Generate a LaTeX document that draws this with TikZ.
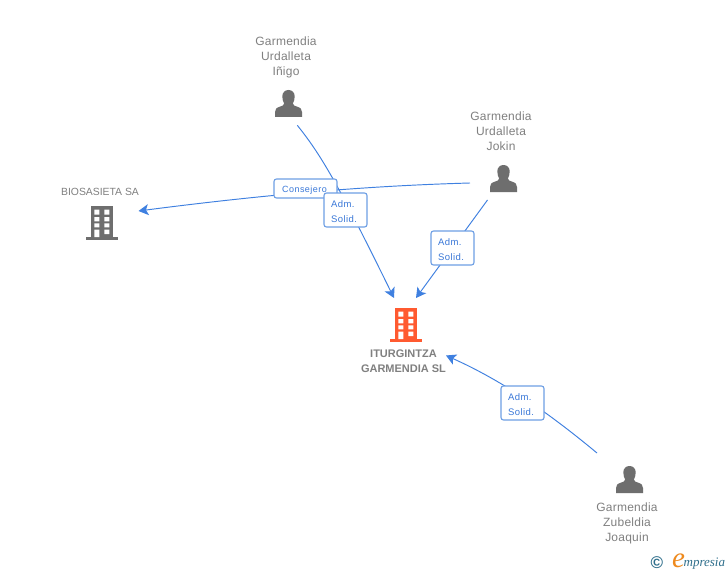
\documentclass[tikz,border=0pt]{standalone}
\usepackage{fontspec}
\setmainfont{Liberation Sans}
\newfontfamily\lblfont[LetterSpace=5]{Liberation Sans}
\newfontfamily\namefont[LetterSpace=2]{Liberation Sans}
\newfontfamily\logofont{Liberation Serif}
\usetikzlibrary{arrows.meta}
\definecolor{linkblue}{HTML}{3F80E0}
\definecolor{boxblue}{HTML}{6E9FE4}
\definecolor{labelblue}{HTML}{3A78D8}
\definecolor{iconGrey}{HTML}{6E6E6E}
\definecolor{nameGrey}{HTML}{808080}
\definecolor{mainOrange}{HTML}{FF5A30}
\definecolor{logoTeal}{HTML}{2F6F8C}
\definecolor{logoOrange}{HTML}{EE8A1E}
\tikzset{
  x=1pt,y=-1pt,
  link/.style={linkblue,line width=0.95pt},
  linkarrow/.style={link,-{Stealth[length=10pt,width=11pt,inset=2.5pt]}},
  rolebox/.style={draw=boxblue,line width=1.1pt,rounded corners=2.5pt,fill=white,text=labelblue,inner sep=0pt},
  admbox/.style={rolebox,minimum width=43pt,minimum height=34pt,text width=29pt,align=left,font=\lblfont\fontsize{9.5}{15}\selectfont},
  consbox/.style={rolebox,minimum width=63pt,minimum height=19pt,align=center,font=\lblfont\fontsize{9}{11}\selectfont},
  person/.style={align=center,text=nameGrey,font=\namefont\fontsize{12}{15}\selectfont,inner sep=0pt},
}
\newcommand{\topstrut}[1]{\rule{0pt}{#1}}
% person icon: origin at top-centre of the head, 27 wide, 27 high
\newcommand{\personicon}[2]{%
  \begin{scope}[shift={(#1,#2)}]
    \fill[iconGrey] (0,0) .. controls (3.6,0) and (6.2,2.6) .. (6.2,6.4)
      .. controls (6.2,9.6) and (5.2,12) .. (4.4,13.4)
      .. controls (4.4,15.4) and (6,15.8) .. (8.5,16.6)
      .. controls (12,17.8) and (13.5,19) .. (13.5,22) -- (13.5,27) -- (-13.5,27) -- (-13.5,22)
      .. controls (-13.5,19) and (-12,17.8) .. (-8.5,16.6)
      .. controls (-6,15.8) and (-4.4,15.4) .. (-4.4,13.4)
      .. controls (-5.2,12) and (-6.2,9.6) .. (-6.2,6.4)
      .. controls (-6.2,2.6) and (-3.6,0) .. (0,0) -- cycle;
  \end{scope}}
% building icon: origin at top-left of the body
\newcommand{\buildingicon}[3]{%
  \begin{scope}[shift={(#1,#2)}]
    \fill[#3] (0,0) rectangle (22.3,31);
    \fill[#3] (-5,31) rectangle (27,33.5);
    \fill[white]
      (3.3,3.7) rectangle (8.3,8.7) (13.3,3.7) rectangle (18.3,8.7)
      (3.3,11) rectangle (8.3,15.3) (13.3,11) rectangle (18.3,15.3)
      (3.3,17.3) rectangle (8.3,21.3) (13.3,17.3) rectangle (18.3,21.3)
      (3.3,23.7) rectangle (8.3,31) (13.3,23.7) rectangle (18.3,28);
  \end{scope}}
\begin{document}
\begin{tikzpicture}
\useasboundingbox (0,0) rectangle (728,575);
\fill[white] (0,0) rectangle (728,575);
% free ends
\coordinate (inigoOut) at (297.3,125.3);
\coordinate (jokinOutA) at (470,183);
\coordinate (jokinOutB) at (487.5,200);
\coordinate (joaquinOut) at (597,453);
\coordinate (mainTipA) at (394,298);
\coordinate (mainTipB) at (416,298);
\coordinate (mainTipC) at (446,355.5);
\coordinate (biosTip) at (138.5,211);
% connectors
\draw[linkarrow] (inigoOut) .. controls (321,155) and (337,182) .. (mainTipA);
\draw[linkarrow] (jokinOutA) .. controls (400,185) and (300,190) .. (biosTip);
\draw[linkarrow] (jokinOutB) -- (mainTipB);
\draw[linkarrow] (joaquinOut) .. controls (562,424) and (512,385) .. (mainTipC);
% icons
\personicon{288.5}{90}
\personicon{503.5}{165}
\personicon{629.5}{466}
\buildingicon{91}{206}{iconGrey}
\buildingicon{395}{308}{mainOrange}
% names
\node[person] (inigo) at (286,57.2) {Garmendia\\Urdalleta\\Iñigo};
\node[person] (jokin) at (501,131.7) {Garmendia\\Urdalleta\\Jokin};
\node[person] (joaquin) at (627,523.2) {Garmendia\\Zubeldia\\Joaquin};
\node[text=nameGrey,font=\fontsize{10.4}{12}\selectfont,inner sep=0pt] (bios) at (100,192) {BIOSASIETA SA};
\node[text=nameGrey,font=\bfseries\fontsize{11}{15}\selectfont,align=center,inner sep=0pt] (main) at (403.5,361) {ITURGINTZA\\GARMENDIA SL};
% role labels
\node[consbox] (cons) at (305.5,188.5) {\topstrut{9.5pt}Consejero\hspace*{2pt}};
\node[admbox] (admA) at (345.5,210) {\topstrut{10.5pt}Adm.\\Solid.};
\node[admbox] (admB) at (452.5,248) {\topstrut{10.5pt}Adm.\\Solid.};
\node[admbox] (admC) at (522.5,403) {\topstrut{10.5pt}Adm.\\Solid.};
% logo
\node[text=logoTeal,font=\bfseries\fontsize{17}{17}\selectfont,inner sep=0pt] (copy) at (657,563) {©};
\node[text=logoOrange,font=\logofont\itshape\fontsize{29}{29}\selectfont,inner sep=0pt] (logoE) at (678.5,561) {e};
\node[text=logoTeal,font=\logofont\itshape\fontsize{13}{13}\selectfont,inner sep=0pt,anchor=west] (logoRest) at (683.5,564) {mpresia};
\end{tikzpicture}
\end{document}
